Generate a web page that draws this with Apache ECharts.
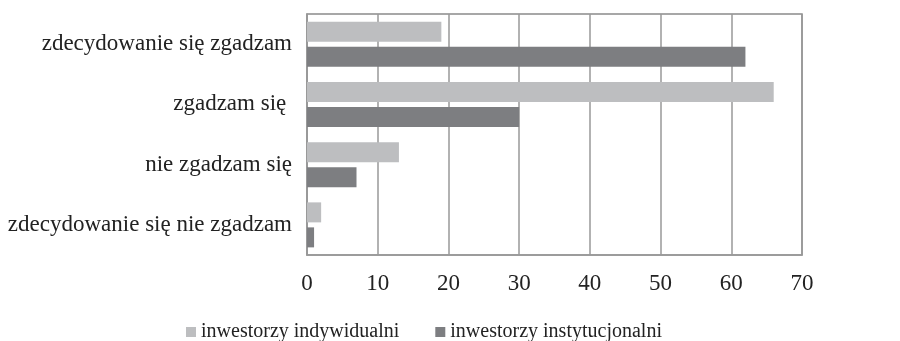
<!DOCTYPE html>
<html><head><meta charset="utf-8">
<script src="https://cdn.jsdelivr.net/npm/echarts@6/dist/echarts.min.js"></script>
<style>html,body{margin:0;padding:0;background:#fff}#c{width:900px;height:341px}</style>
</head><body><div id="c"></div>
<script>
const categories = ["zdecydowanie się zgadzam", "zgadzam się ", "nie zgadzam się", "zdecydowanie się nie zgadzam"];
const individual = [19, 66, 13, 2];
const institutional = [62, 30, 7, 1];
const seriesNames = ["inwestorzy indywidualni", "inwestorzy instytucjonalni"];
const font = "Liberation Serif";
const chart = echarts.init(document.getElementById('c'));
chart.setOption({
  animation: false,
  textStyle: {fontFamily: font},
  grid: {left: 307, right: 98, top: 14, height: 241, show: true, borderColor: '#8a8a8a', borderWidth: 1.5},
  legend: {
    top: 322, left: 186, itemWidth: 10, itemHeight: 10, itemGap: 36, icon: 'rect', padding: 0,
    textStyle: {fontFamily: font, fontSize: 20, color: '#222', lineHeight: 20},
    data: seriesNames
  },
  xAxis: {
    type: 'value', min: 0, max: 70, interval: 10,
    axisLine: {show: true, lineStyle: {color: '#999', width: 1.5}},
    axisTick: {show: false},
    axisLabel: {fontFamily: font, fontSize: 23, color: '#222', margin: 17},
    splitLine: {show: true, lineStyle: {color: '#999', width: 1.5}}
  },
  yAxis: {
    type: 'category', data: categories, inverse: true,
    axisLine: {show: true, lineStyle: {color: '#999', width: 1.5}},
    axisTick: {show: false},
    axisLabel: {fontFamily: font, fontSize: 23, color: '#222', margin: 15}
  },
  series: [
    {name: seriesNames[0], type: 'bar', data: individual, barWidth: 20, barGap: '25%', itemStyle: {color: '#bdbec0'}},
    {name: seriesNames[1], type: 'bar', data: institutional, barWidth: 20, barGap: '25%', itemStyle: {color: '#7d7e81'}}
  ]
});
</script></body></html>
